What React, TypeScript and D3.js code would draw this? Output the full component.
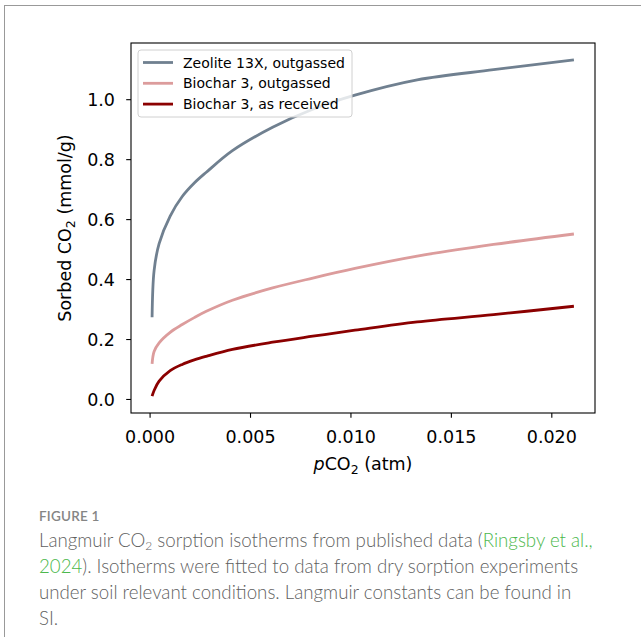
import React from 'react';
import * as d3 from 'd3';

// pCO2 (atm) sample points
const PCO2 = [0.0001, 0.0002, 0.00045, 0.001, 0.0016, 0.0022, 0.0028, 0.0041, 0.0061, 0.0081, 0.0102, 0.0133, 0.0171, 0.0211];

const ZEOLITE = [0.274, 0.43, 0.52, 0.612, 0.677, 0.722, 0.758, 0.83, 0.908, 0.968, 1.015, 1.066, 1.1, 1.133];
const BIOCHAR_OUT = [0.119, 0.16, 0.189, 0.224, 0.25, 0.273, 0.294, 0.331, 0.372, 0.405, 0.437, 0.478, 0.517, 0.552];
const BIOCHAR_RECV = [0.011, 0.03, 0.061, 0.096, 0.117, 0.132, 0.144, 0.167, 0.191, 0.211, 0.231, 0.259, 0.283, 0.311];

const SERIES_NAMES = ['Zeolite 13X, outgassed', 'Biochar 3, outgassed', 'Biochar 3, as received'];
const COLORS = ['#708090', '#dc9c9c', '#8b0000'];

const X_TICKS = [0, 0.005, 0.01, 0.015, 0.02];
const Y_TICKS = [0, 0.2, 0.4, 0.6, 0.8, 1.0];

const W = 641;
const H = 637;
const M = { left: 131, right: 595, top: 43, bottom: 413 };

const FONT = 'DejaVu Sans, sans-serif';
const CAP_FONT = 'Lato, "Open Sans", sans-serif';

const App = () => {
  const allY = [...ZEOLITE, ...BIOCHAR_OUT, ...BIOCHAR_RECV];
  const [x0, x1] = d3.extent(PCO2) as [number, number];
  const [y0, y1] = d3.extent(allY) as [number, number];
  const xPad = (x1 - x0) * 0.05;
  const yPad = (y1 - y0) * 0.05;

  const x = d3.scaleLinear().domain([x0 - xPad, x1 + xPad]).range([M.left, M.right]);
  const y = d3.scaleLinear().domain([y0 - yPad, y1 + yPad]).range([M.bottom, M.top]);

  const line = d3
    .line<number>()
    .x((d, i) => x(PCO2[i]))
    .y(d => y(d))
    .curve(d3.curveCatmullRom.alpha(0.5));

  const series = [ZEOLITE, BIOCHAR_OUT, BIOCHAR_RECV];

  return (
    <div style={{ position: 'absolute', left: 0, top: 0 }}>
      <svg width={W} height={H} style={{ display: 'block', background: '#fff' }}>
        {/* page frame */}
        <rect x={4.5} y={5.5} width={W + 20} height={H + 20} fill="none" stroke="#999" strokeWidth={1} />

        {/* data lines */}
        <g fill="none" strokeWidth={2.8} strokeLinejoin="round">
          {series.map((s, i) => (
            <path key={i} d={line(s) || ''} stroke={COLORS[i]} />
          ))}
        </g>

        {/* axes frame */}
        <rect
          x={M.left}
          y={M.top}
          width={M.right - M.left}
          height={M.bottom - M.top}
          fill="none"
          stroke="#000"
          strokeWidth={1.1}
        />

        {/* x ticks */}
        <g fontFamily={FONT} fontSize={17.5} fill="#000">
          {X_TICKS.map(t => (
            <g key={t} transform={`translate(${x(t)},${M.bottom})`}>
              <line y2={4.8} stroke="#000" strokeWidth={1.1} />
              <text y={30} textAnchor="middle">
                {d3.format('.3f')(t)}
              </text>
            </g>
          ))}
        </g>

        {/* y ticks */}
        <g fontFamily={FONT} fontSize={17.5} fill="#000">
          {Y_TICKS.map(t => (
            <g key={t} transform={`translate(${M.left},${y(t)})`}>
              <line x2={-4.8} stroke="#000" strokeWidth={1.1} />
              <text x={-16} dy="0.36em" textAnchor="end">
                {d3.format('.1f')(t)}
              </text>
            </g>
          ))}
        </g>

        {/* axis labels */}
        <text
          x={(M.left + M.right) / 2}
          y={470}
          textAnchor="middle"
          fontFamily={FONT}
          fontSize={17.5}
        >
          <tspan fontStyle="italic">p</tspan>
          <tspan>CO</tspan>
          <tspan fontSize={12.5} dy={4}>2</tspan>
          <tspan dy={-4}> (atm)</tspan>
        </text>
        <text
          transform={`translate(71,${(M.top + M.bottom) / 2}) rotate(-90)`}
          textAnchor="middle"
          fontFamily={FONT}
          fontSize={17.5}
        >
          <tspan>Sorbed CO</tspan>
          <tspan fontSize={12.5} dy={4}>2</tspan>
          <tspan dy={-4}> (mmol/g)</tspan>
        </text>

        {/* legend */}
        <g transform={`translate(${M.left + 7},${M.top + 7})`}>
          <rect
            width={214}
            height={67}
            rx={3}
            fill="#fff"
            fillOpacity={0.8}
            stroke="#d0d0d0"
            strokeWidth={1}
          />
          {SERIES_NAMES.map((name, i) => (
            <g key={name} transform={`translate(0,${12.5 + i * 20.8})`}>
              <line x1={5} x2={35} stroke={COLORS[i]} strokeWidth={2.8} />
              <text x={45} dy="0.36em" fontFamily={FONT} fontSize={14} fill="#000">
                {name}
              </text>
            </g>
          ))}
        </g>

        {/* caption */}
        <g fontFamily={CAP_FONT} fill="#5f5f5f">
          <text x={39} y={521} fontSize={13.5} fill="#858585" fontWeight={600} letterSpacing={0.2}>
            FIGURE 1
          </text>
          <text x={39} y={547} fontSize={18.7} fontWeight={300}>
            Langmuir CO<tspan fontSize={12} dy={3}>2</tspan>
            <tspan dy={-3}> sorption isotherms from published data (</tspan>
            <tspan fill="#4cb84c">Ringsby et al.,</tspan>
          </text>
          <text x={39} y={573} fontSize={18.7} fontWeight={300}>
            <tspan fill="#4cb84c">2024</tspan>). Isotherms were fitted to data from dry sorption experiments
          </text>
          <text x={39} y={599} fontSize={18.7} fontWeight={300}>
            under soil relevant conditions. Langmuir constants can be found in
          </text>
          <text x={39} y={625} fontSize={18.7} fontWeight={300}>
            SI.
          </text>
        </g>
      </svg>
    </div>
  );
};

export default App;
